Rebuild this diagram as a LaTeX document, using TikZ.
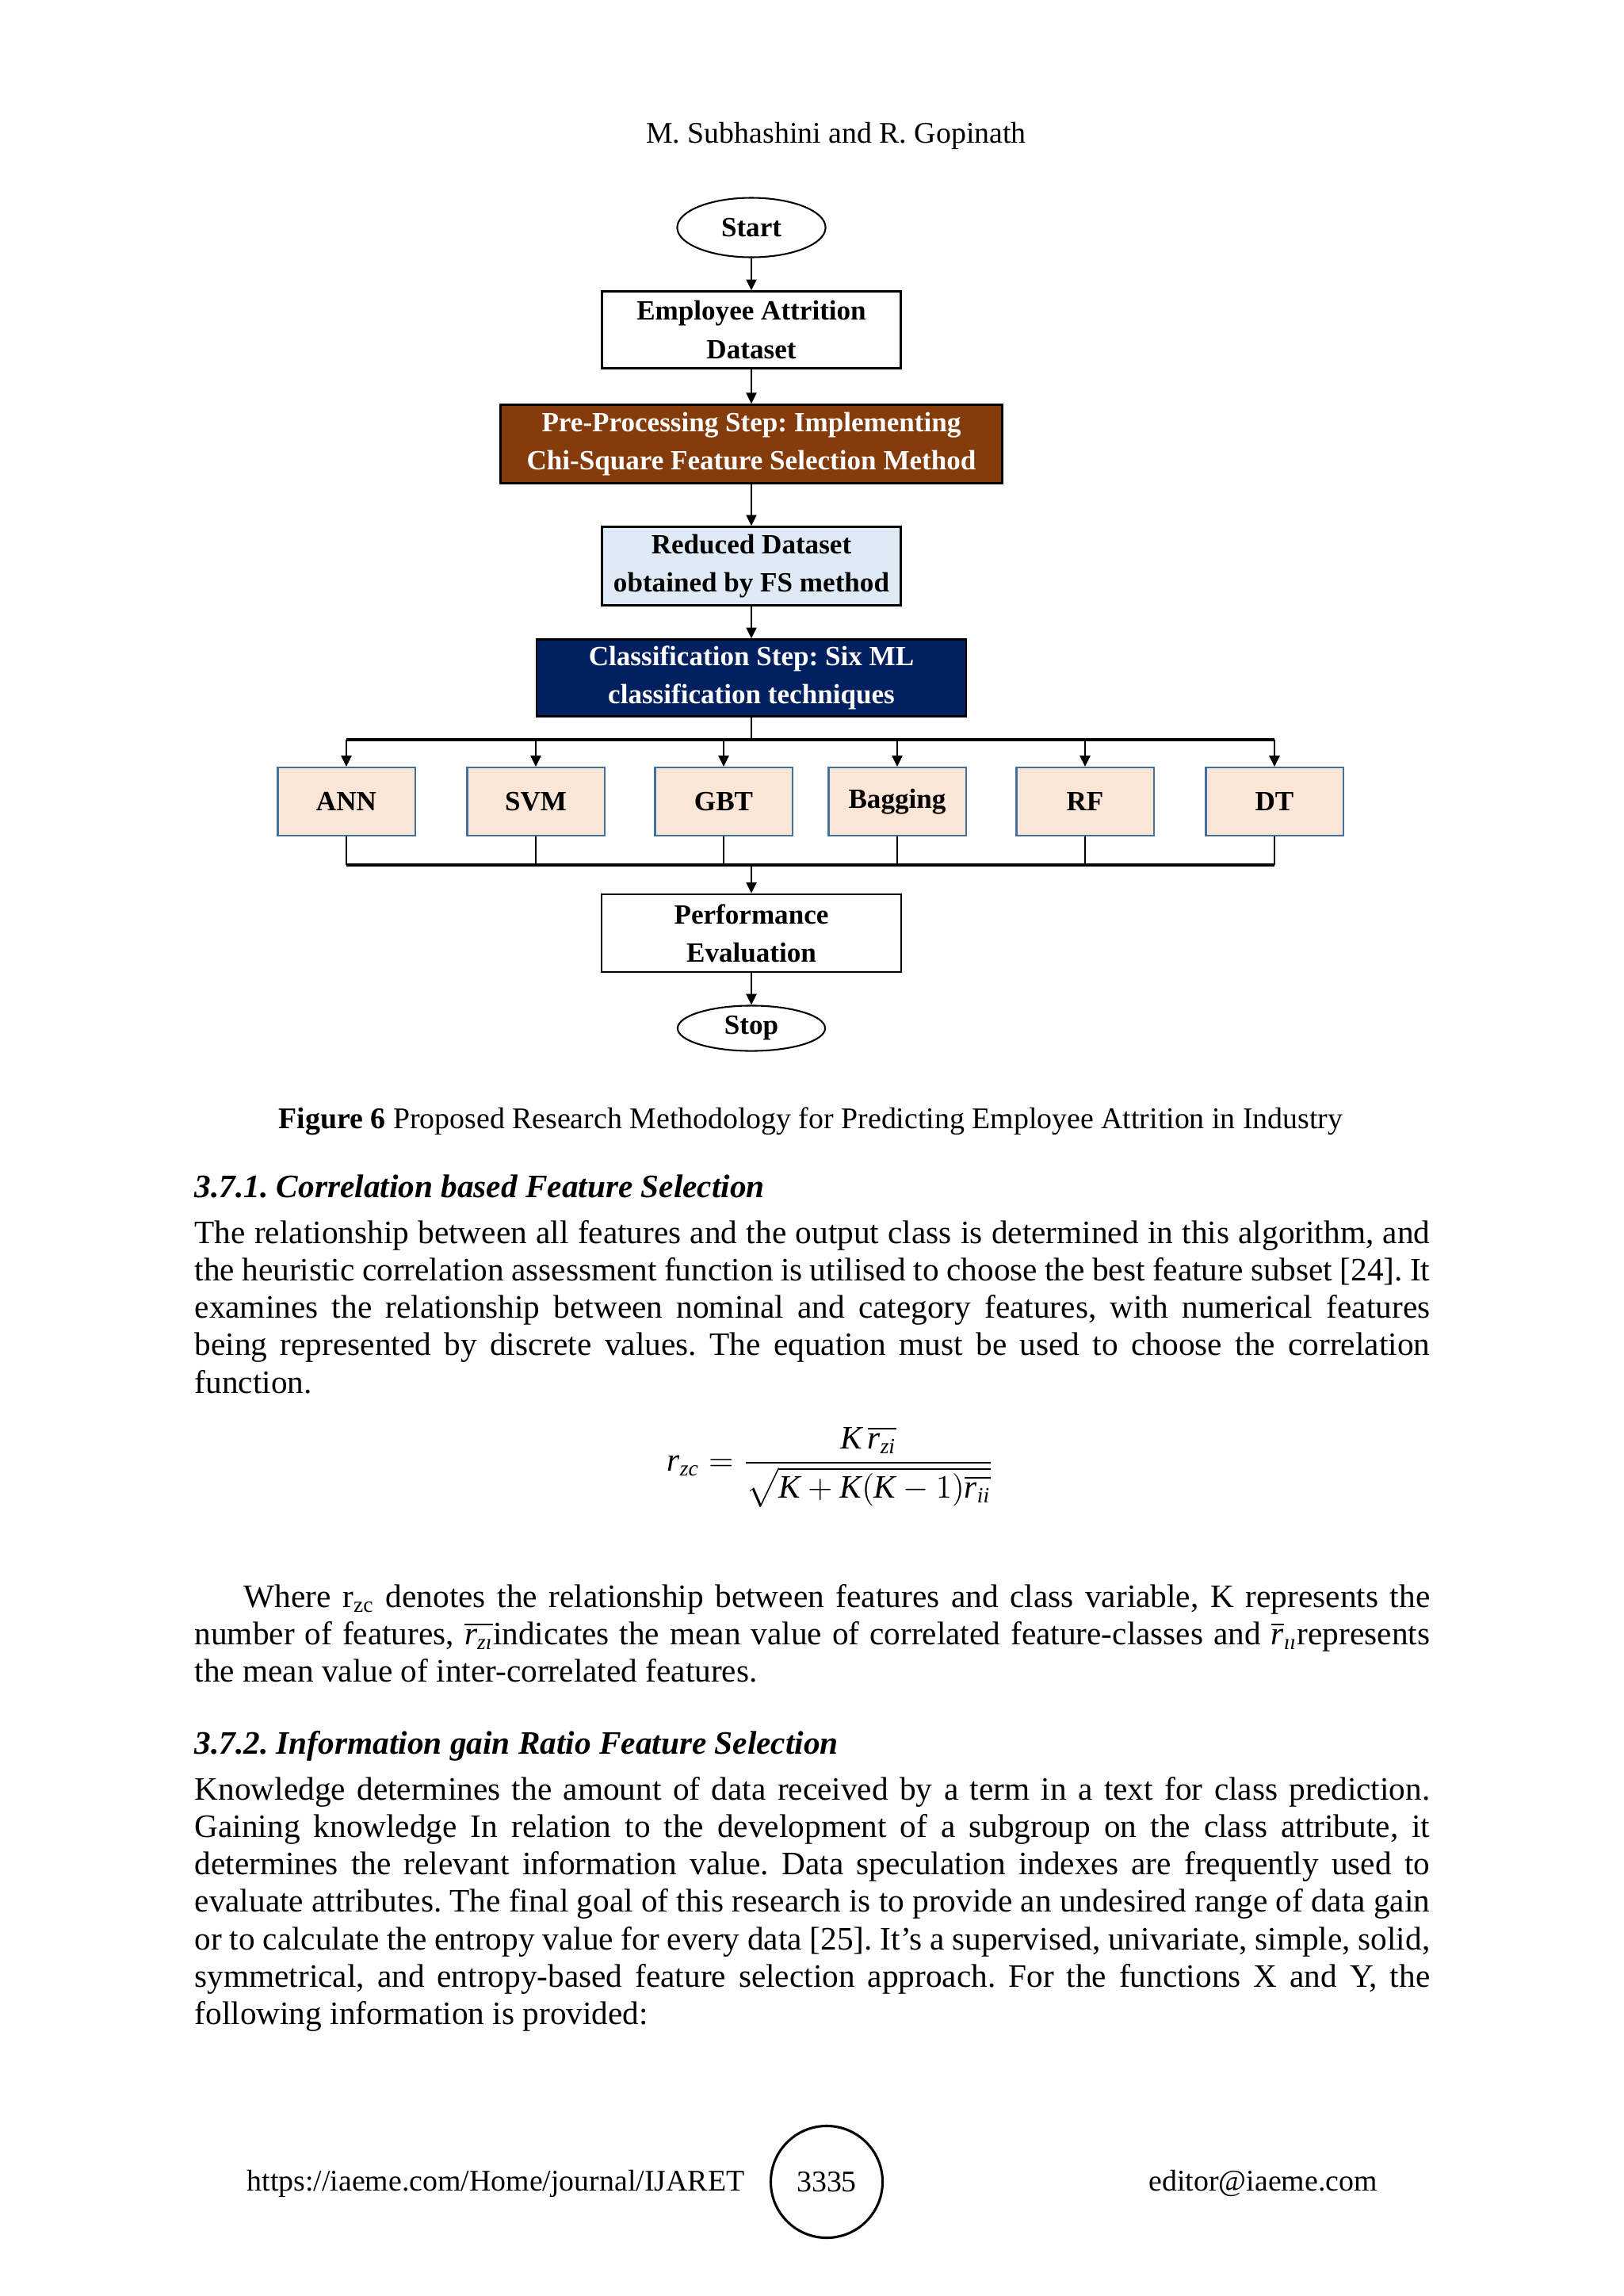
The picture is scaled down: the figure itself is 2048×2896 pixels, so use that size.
\documentclass[tikz,border=0pt]{standalone}
\usepackage{amsmath}
\usepackage{fontspec}
\setmainfont{Liberation Serif}
\usetikzlibrary{shapes.geometric,arrows.meta}
\frenchspacing

\definecolor{prepBrown}{HTML}{843C0C}
\definecolor{classNavy}{HTML}{002060}
\definecolor{reducedBlue}{HTML}{DEEBF7}
\definecolor{modelPeach}{HTML}{FBE5D6}
\definecolor{modelEdge}{HTML}{41719C}

\tikzset{
  flowbox/.style={draw, line width=0.7pt, rectangle, inner sep=0pt, align=center,
    font=\fontsize{10.2}{14}\selectfont\bfseries},
  terminal/.style={draw, line width=0.6pt, ellipse, inner sep=0pt,
    font=\fontsize{10.2}{14}\selectfont\bfseries},
  modelbox/.style={flowbox, draw=modelEdge, fill=modelPeach, line width=0.6pt,
    minimum width=50.3pt, minimum height=25pt},
  flowarrow/.style={-{Triangle[length=4pt,width=3.8pt]}, line width=0.65pt},
  busline/.style={line width=1.1pt},
  bodytext/.style={anchor=base west, inner sep=0pt, text width=453pt, align=justify,
    font=\fontsize{12}{13.75}\selectfont},
  pagetext/.style={inner sep=0pt, font=\fontsize{11}{13}\selectfont},
}

\begin{document}
\begin{tikzpicture}[x=0.29066pt, y=-0.29066pt]
        \fill[white] (0,0) rectangle (2048,2896);
        \useasboundingbox (0,0) rectangle (2048,2896);

        % running head
        \node[pagetext, anchor=base] (head) at (1055,180) {M. Subhashini and R. Gopinath};

        % flowchart
        \node[terminal, minimum width=54.4pt, minimum height=21.8pt] (start) at (948,287) {Start};
        \node[flowbox, minimum width=109.6pt, minimum height=28.2pt] (dataset) at (948,416) {Employee Attrition\\Dataset};
        \node[flowbox, fill=prepBrown, text=white, minimum width=184pt, minimum height=28.8pt] (prep) at (948,560) {Pre-Processing Step: Implementing\\Chi-Square Feature Selection Method};
        \node[flowbox, fill=reducedBlue, minimum width=109.6pt, minimum height=28.8pt] (reduced) at (948,714) {Reduced Dataset\\obtained by FS method};
        \node[flowbox, fill=classNavy, text=white, minimum width=157.5pt, minimum height=28.2pt] (classify) at (948,855) {Classification Step: Six ML\\classification techniques};

        \foreach \name/\txt/\x in {ann/ANN/437,svm/SVM/676,gbt/GBT/913,bag/Bagging/1132,rf/RF/1369,dt/DT/1608}{
                \node[modelbox] (\name) at (\x,1011) {\txt};
            }

        \node[flowbox, minimum width=110pt, minimum height=28.5pt] (perf) at (948,1177) {Performance\\Evaluation};
        \node[terminal, minimum width=54.1pt, minimum height=16.6pt] (stop) at (948,1297) {Stop};

        \draw[flowarrow] (start) -- (dataset);
        \draw[flowarrow] (dataset) -- (prep);
        \draw[flowarrow] (prep) -- (reduced);
        \draw[flowarrow] (reduced) -- (classify);

        \coordinate (split) at (948,933);
        \coordinate (merge) at (948,1091);
        \draw[line width=0.65pt] (classify) -- (split);
        \draw[busline] (split -| ann) -- (split -| dt);
        \draw[busline] (merge -| ann) -- (merge -| dt);
        \foreach \name in {ann,svm,gbt,bag,rf,dt}{
                \draw[flowarrow] (split -| \name) -- (\name);
                \draw[line width=0.65pt] (\name) -- (merge -| \name);
            }
        \draw[flowarrow] (merge) -- (perf);
        \draw[flowarrow] (perf) -- (stop);

        \node[pagetext, anchor=base] (caption) at (1023,1423) {\textbf{Figure 6} Proposed Research Methodology for Predicting Employee Attrition in Industry};

        % section 3.7.1
        \node[anchor=base west, inner sep=0pt, font=\fontsize{12}{14}\selectfont\bfseries\itshape] (corrhead) at (245,1510) {3.7.1. Correlation based Feature Selection};
        \node[bodytext] (corrtext) at (245,1568) {The relationship between all features and the output class is determined in this algorithm, and \linebreak
            the heuristic correlation assessment function is utilised to choose the best feature subset [24]. It \linebreak
            examines the relationship between nominal and category features, with numerical features \linebreak
            being represented by discrete values. The equation must be used to choose the correlation \linebreak
            function.};

        \node[anchor=base, inner sep=0pt, font=\fontsize{12}{14}\selectfont] (correq) at (1048,1855)
            {$\textit{r}_{\textit{zc}} = \dfrac{\textit{K}\,\overline{\textit{r}_{\textit{zi}}}}{\sqrt{\textit{K}+\textit{K}(\textit{K}-1)\overline{\textit{r}_{\textit{ii}}}}}$};

        \node[bodytext] (corrnote) at (245,2027) {\hspace*{18pt}Where r\textsubscript{zc} denotes the relationship between features and class variable, K represents the \linebreak
            number of features, $\overline{\textit{r}_{\textit{z\i}}}$indicates the mean value of correlated feature-classes and $\overline{\textit{r}}_{\textit{\i\i}}$represents \linebreak
            the mean value of inter-correlated features.};

        % section 3.7.2
        \node[anchor=base west, inner sep=0pt, font=\fontsize{12}{14}\selectfont\bfseries\itshape] (gainhead) at (245,2212) {3.7.2. Information gain Ratio Feature Selection};
        \node[bodytext] (gaintext) at (245,2270) {Knowledge determines the amount of data received by a term in a text for class prediction. \linebreak
            Gaining knowledge In relation to the development of a subgroup on the class attribute, it \linebreak
            determines the relevant information value. Data speculation indexes are frequently used to \linebreak
            evaluate attributes. The final goal of this research is to provide an undesired range of data gain \linebreak
            or to calculate the entropy value for every data [25]. It's a supervised, univariate, simple, solid, \linebreak
            symmetrical, and entropy-based feature selection approach. For the functions X and Y, the \linebreak
            following information is provided:};

        % footer
        \node[pagetext, anchor=base west] (url) at (311,2763) {https://iaeme.com/Home/journal/IJARET};
        \node[pagetext, draw, circle, line width=0.9pt, minimum size=41pt] (pagenum) at (1043,2752) {3335};
        \node[pagetext, anchor=base west] (mail) at (1449,2763) {editor@iaeme.com};
\end{tikzpicture}
\end{document}
